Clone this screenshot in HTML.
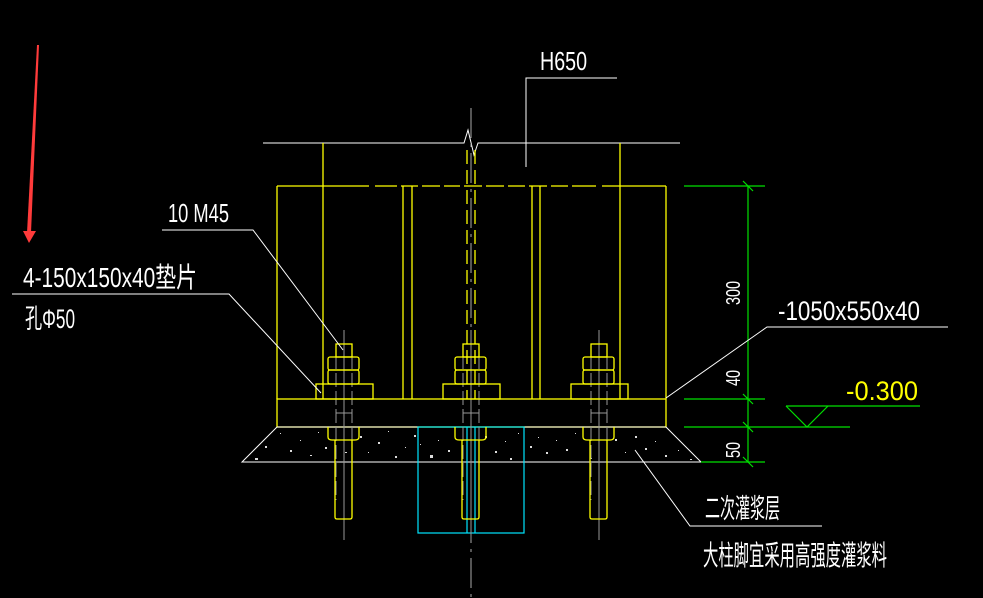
<!DOCTYPE html>
<html><head><meta charset="utf-8"><style>
html,body{margin:0;padding:0;background:#000;width:983px;height:598px;overflow:hidden}
svg{display:block}
text{font-family:"Liberation Sans","Noto Sans CJK SC",sans-serif;}
</style></head><body>
<svg width="983" height="598" viewBox="0 0 983 598" xmlns="http://www.w3.org/2000/svg">
<defs>
<g id="bolt" fill="none">
  <line x1="0" y1="330" x2="0" y2="540" stroke="#999" stroke-width="1"/>
  <line x1="-8" y1="355" x2="-8" y2="500" stroke="#999" stroke-width="1" stroke-dasharray="14,4"/>
  <line x1="8" y1="355" x2="8" y2="500" stroke="#999" stroke-width="1" stroke-dasharray="14,4"/>
  <line x1="-8" y1="413" x2="8" y2="413" stroke="#999" stroke-width="1"/>
  <g stroke="#ffff00" stroke-width="1.3">
    <rect x="-8" y="344" width="16" height="13"/>
    <rect x="-16" y="357" width="31" height="13" rx="2"/>
    <rect x="-16" y="370" width="31" height="14" rx="2"/>
    <rect x="-28" y="384" width="57" height="15"/>
    <path d="M-16 427 V437 Q-16 440 -12 440 H11 Q15 440 15 437 V427"/>
    <path d="M-9 440 V517 Q-9 519 -7 519 H6 Q8 519 8 517 V440"/>
  </g>
</g>
</defs>

<!-- red arrow -->
<polygon points="37,45 39,45 31,233 27,233" fill="#ff3b3b"/>
<polygon points="23,231 36,231 29,243" fill="#ff3b3b"/>

<!-- top white line with break -->
<polyline points="263,143 464,143 468,130 474,155 478,143 680,143" fill="none" stroke="#fff" stroke-width="1"/>
<!-- H650 leader -->
<polyline points="526,167 526,78 617,78" fill="none" stroke="#fff" stroke-width="1"/>
<text x="540" y="70" fill="#fff" font-size="26" textLength="47" lengthAdjust="spacingAndGlyphs">H650</text>

<!-- center axis -->
<line x1="471" y1="108" x2="471" y2="598" stroke="#aaa" stroke-width="1" stroke-dasharray="30,6,3,6"/>

<!-- yellow column -->
<g stroke="#ffff00" stroke-width="1.3" fill="none">
  <line x1="323" y1="143" x2="323" y2="399"/>
  <line x1="620" y1="143" x2="620" y2="399"/>
  <line x1="277" y1="186" x2="277" y2="399"/>
  <line x1="666" y1="186" x2="666" y2="399"/>
  <line x1="277" y1="186" x2="666" y2="186" stroke-dasharray="92,6,22,4,17,4,18,4,16,4,18,4,18,4,17,4,18,4,17,4,24,6,200"/>
  <line x1="403" y1="186" x2="403" y2="399"/>
  <line x1="412" y1="186" x2="412" y2="399"/>
  <line x1="532" y1="186" x2="532" y2="399"/>
  <line x1="540" y1="186" x2="540" y2="399"/>
  <line x1="467" y1="150" x2="467" y2="399" stroke-dasharray="14,6"/>
  <line x1="475" y1="150" x2="475" y2="399" stroke-dasharray="14,6"/>
  <rect x="277" y="399" width="389" height="28"/>
</g>

<!-- grout -->
<polygon points="277,427 666,427 701,462 242,462" fill="none" stroke="#fff" stroke-width="1"/>
<g fill="#ddd">
<rect x="265" y="446" width="2" height="2"/><rect x="280" y="433" width="1" height="1"/><rect x="290" y="450" width="2" height="2"/><rect x="300" y="440" width="1" height="1"/><rect x="310" y="455" width="2" height="1"/><rect x="318" y="432" width="1" height="1"/><rect x="325" y="447" width="2" height="2"/><rect x="360" y="436" width="2" height="2"/><rect x="368" y="452" width="1" height="1"/><rect x="378" y="442" width="2" height="2"/><rect x="388" y="431" width="1" height="1"/><rect x="395" y="456" width="2" height="2"/><rect x="405" y="447" width="1" height="1"/><rect x="414" y="435" width="2" height="2"/><rect x="430" y="455" width="3" height="3"/><rect x="438" y="440" width="1" height="1"/><rect x="448" y="450" width="2" height="2"/><rect x="485" y="436" width="2" height="2"/><rect x="495" y="451" width="2" height="2"/><rect x="505" y="441" width="1" height="1"/><rect x="510" y="458" width="2" height="2"/><rect x="518" y="433" width="1" height="1"/><rect x="530" y="446" width="2" height="2"/><rect x="538" y="437" width="1" height="1"/><rect x="546" y="452" width="2" height="2"/><rect x="556" y="440" width="1" height="1"/><rect x="566" y="449" width="2" height="2"/><rect x="575" y="433" width="1" height="1"/><rect x="615" y="439" width="2" height="2"/><rect x="625" y="452" width="1" height="1"/><rect x="635" y="436" width="2" height="2"/><rect x="645" y="448" width="2" height="2"/><rect x="655" y="441" width="1" height="1"/><rect x="665" y="455" width="2" height="2"/><rect x="678" y="450" width="1" height="1"/><rect x="255" y="458" width="3" height="2"/><rect x="345" y="452" width="2" height="1"/><rect x="420" y="444" width="1" height="1"/><rect x="590" y="458" width="2" height="1"/><rect x="690" y="459" width="2" height="1"/>
</g>

<!-- cyan pier -->
<g stroke="#00e5ff" stroke-width="1.2" fill="none">
  <rect x="418" y="427" width="106" height="106"/>
  <line x1="467" y1="427" x2="467" y2="533"/>
  <line x1="475" y1="427" x2="475" y2="533"/>
</g>

<!-- bolts -->
<use href="#bolt" x="344"/>
<use href="#bolt" x="471"/>
<use href="#bolt" x="599"/>

<!-- green dims -->
<g stroke="#00e000" stroke-width="1.2" fill="none">
  <line x1="684" y1="186" x2="765" y2="186"/>
  <line x1="684" y1="399" x2="765" y2="399"/>
  <line x1="684" y1="427" x2="850" y2="427"/>
  <line x1="701" y1="462" x2="765" y2="462"/>
  <line x1="748" y1="186" x2="748" y2="462"/>
  <line x1="743" y1="181" x2="753" y2="191"/>
  <line x1="743" y1="394" x2="753" y2="404"/>
  <line x1="743" y1="422" x2="753" y2="432"/>
  <line x1="743" y1="457" x2="753" y2="467"/>
  <line x1="786" y1="406" x2="920" y2="406"/>
  <polyline points="786,406 807,427 828,406"/>
</g>
<g fill="#fff" font-size="20">
  <text transform="translate(740,305) rotate(-90)" textLength="24" lengthAdjust="spacingAndGlyphs">300</text>
  <text transform="translate(740,386) rotate(-90)" textLength="16" lengthAdjust="spacingAndGlyphs">40</text>
  <text transform="translate(740,458) rotate(-90)" textLength="16" lengthAdjust="spacingAndGlyphs">50</text>
</g>
<text x="846" y="400" fill="#ffff00" font-size="27" textLength="72" lengthAdjust="spacingAndGlyphs">-0.300</text>

<!-- plate leader -->
<polyline points="666,398 767,327 948,327" fill="none" stroke="#fff" stroke-width="1"/>
<text x="778" y="320" fill="#fff" font-size="27" textLength="142" lengthAdjust="spacingAndGlyphs">-1050x550x40</text>

<!-- left labels -->
<polyline points="162,230 253,230 343,350" fill="none" stroke="#fff" stroke-width="1"/>
<text x="168" y="222" fill="#fff" font-size="26" textLength="61" lengthAdjust="spacingAndGlyphs">10 M45</text>
<polyline points="12,294 229,294 321,393" fill="none" stroke="#fff" stroke-width="1"/>
<text x="23" y="287" fill="#fff" font-size="28" textLength="174" lengthAdjust="spacingAndGlyphs">4-150x150x40垫片</text>
<text x="25" y="328" fill="#fff" font-size="27" textLength="50" lengthAdjust="spacingAndGlyphs">孔Φ50</text>

<!-- bottom labels -->
<polyline points="635,450 690,526 822,526" fill="none" stroke="#fff" stroke-width="1"/>
<text x="705" y="518" fill="#fff" font-size="27" textLength="75" lengthAdjust="spacingAndGlyphs">二次灌浆层</text>
<text x="703" y="565" fill="#fff" font-size="28" textLength="184" lengthAdjust="spacingAndGlyphs">大柱脚宜采用高强度灌浆料</text>
</svg>
</body></html>
